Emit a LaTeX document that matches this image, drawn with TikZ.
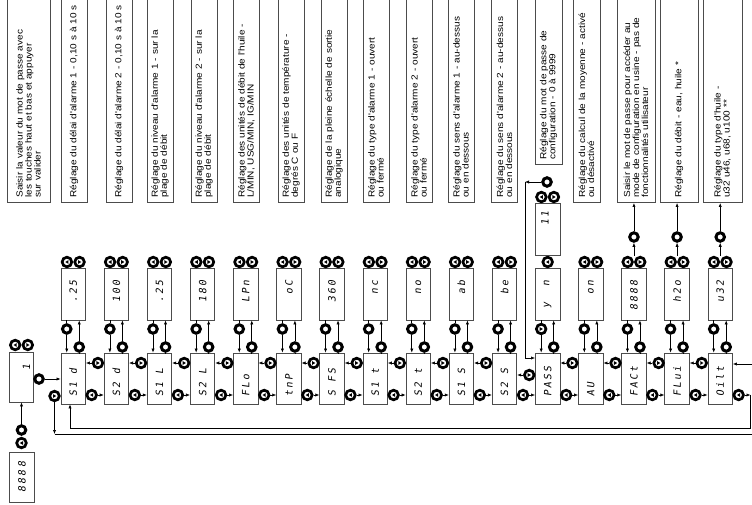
\documentclass[tikz,border=0pt]{standalone}
\usepackage{fontspec}
\setmainfont{Liberation Sans}
\newfontfamily\boxfont[FakeStretch=1.14]{Liberation Sans}
\newfontfamily\segfont[FakeSlant=0.15,LetterSpace=20]{DejaVu Sans Mono}
\usetikzlibrary{arrows.meta,calc}
\tikzset{
 arr/.style={-{Latex[length=4pt,width=3.2pt]}, line width=0.6pt, draw=black},
 con/.style={line width=0.6pt, draw=black},
 mainbox/.style={draw=black!70, line width=0.8pt, minimum width=24.5pt, minimum height=51pt, inner sep=0pt},
 valbox/.style={draw=black!70, line width=0.8pt, minimum width=24.5pt, minimum height=52pt, inner sep=0pt},
 txtbox/.style={draw=black!70, line width=0.8pt, rotate=90, anchor=west, text width=230pt, inner xsep=5pt, inner ysep=0pt, align=left, minimum height=26pt, font=\boxfont\fontsize{8.8}{9}\selectfont},
 segtxt/.style={rotate=90, inner sep=0pt, font=\segfont\fontsize{10}{10}\selectfont},
 plain/.style={circle, draw=black, line width=3pt, fill=white, minimum size=8.5pt, inner sep=0pt},
 btnL/.style={circle, draw=black, line width=2.7pt, fill=white, minimum size=9.6pt, inner sep=0pt,
   path picture={\fill[black] ($(path picture bounding box.center)+(-1.7pt,0pt)$) -- ++(3.2pt,1.9pt) -- ++(0pt,-3.8pt) -- cycle;}},
 btnR/.style={circle, draw=black, line width=2.7pt, fill=white, minimum size=9.6pt, inner sep=0pt,
   path picture={\fill[black] ($(path picture bounding box.center)+(1.7pt,0pt)$) -- ++(-3.2pt,1.9pt) -- ++(0pt,-3.8pt) -- cycle;}},
}
\begin{document}
\begin{tikzpicture}[x=1pt,y=-1pt]
\useasboundingbox (0,0) rectangle (752,505);
\fill[white] (0,0) rectangle (752,505);
\clip (0,0) rectangle (752,505);

% description boxes
\node[txtbox, minimum height=43pt] (tb1) at (28.5,203) {Saisir la valeur du mot de passe avec\\les touches haut et bas et appuyer\\sur valider};
\node[txtbox] (tb2) at (74,203) {Réglage du délai d'alarme 1 - 0,10 s à 10 s};
\node[txtbox] (tb3) at (119,203) {Réglage du délai d'alarme 2 - 0,10 s à 10 s};
\node[txtbox] (tb4) at (160,203) {Réglage du niveau d'alarme 1 - sur la\\plage de débit};
\node[txtbox] (tb5) at (204,203) {Réglage du niveau d'alarme 2 - sur la\\plage de débit};
\node[txtbox] (tb6) at (246.5,203) {Réglage des unités de débit de l'huile -\\L/MIN, USG/MIN, IG/MIN};
\node[txtbox] (tb7) at (291,203) {Réglage des unités de température -\\degrés C ou F};
\node[txtbox] (tb8) at (334,203) {Réglage de la pleine échelle de sortie\\analogique};
\node[txtbox] (tb9) at (376,203) {Réglage du type d'alarme 1 - ouvert\\ou fermé};
\node[txtbox] (tb10) at (419,203) {Réglage du type d'alarme 2 - ouvert\\ou fermé};
\node[txtbox] (tb11) at (461,203) {Réglage du sens d'alarme 1 - au-dessus\\ou en dessous};
\node[txtbox] (tb12) at (504.5,203) {Réglage du sens d'alarme 2 - au-dessus\\ou en dessous};
\node[txtbox, minimum height=27pt] (tb13) at (548.5,165) {Réglage du mot de passe de\\configuration - 0 à 9999};
\node[txtbox, minimum height=27pt] (tb14) at (586.5,203) {Réglage du calcul de la moyenne - activé\\ou désactivé};
\node[txtbox, minimum height=38pt] (tb15) at (636,203) {Saisir le mot de passe pour accéder au\\mode de configuration en usine - pas de\\fonctionnalités utilisateur};
\node[txtbox, minimum height=38pt] (tb16) at (679,203) {Réglage du débit - eau, huile *};
\node[txtbox, minimum height=39pt] (tb17) at (722.5,203) {Réglage du type d'huile -\\u32 u46, u68, u100 **};

% columns
\foreach \i/\mt/\vt in {0/S1 d/.25,1/S2 d/100,2/S1 L/.25,3/S2 L/180,4/FLo/LPn,5/tnP/oC,6/S FS/360,7/S1 t/nc,8/S2 t/no,9/S1 S/ab,10/S2 S/be,11/PASS/y~~n,12/AU/on,13/FACt/8888,14/FLui/h2o,15/Oilt/u32}{
 \pgfmathsetmacro\cx{73.25+43.13*\i}
 \node[mainbox] (m\i) at (\cx,378.5) {};
 \node[segtxt, anchor=west] (mt\i) at (\cx,397) {\mt};
 \node[valbox] (v\i) at (\cx,294) {};
 \node[segtxt, anchor=east] (vt\i) at (\cx,280) {\vt};
 \node[plain] (cr\i) at (\cx+6,347) {};
 \draw[arr] (cr\i) -- (cr\i |- v\i.south);
 \draw[con] (cr\i) -- (cr\i |- m\i.north);
 \ifnum\i=11
   \node[btnR] (cl\i) at (\cx-6.5,329) {};
   \node[btnL] (pc\i) at (\cx,262) {};
 \else
   \node[plain] (cl\i) at (\cx-6.5,329) {};
   \node[btnL] (pl\i) at (\cx-6.3,262) {};
   \node[btnR] (pr\i) at (\cx+6.3,262) {};
 \fi
 \draw[con] (cl\i |- v\i.south) -- (cl\i);
 \draw[arr] (cl\i) -- (cl\i |- m\i.north);
}

% horizontal connectors between main boxes
\foreach \i in {0,...,14}{
 \pgfmathtruncatemacro\j{\i+1}
 \pgfmathsetmacro\cx{73.25+43.13*\i}
 \ifnum\i=10 \def\uy{375}\else\def\uy{363}\fi
 \node[btnR] (hu\i) at (\cx+24.68,\uy) {};
 \draw[arr] (hu\i) -- (hu\i -| m\i.east);
 \node[btnL] (hl\i) at (\cx+18.45,395) {};
 \draw[arr] (hl\i) -- (hl\i -| m\j.west);
}

% first column
\node[valbox, minimum height=50pt] (n1) at (21.5,377) {};
\node[segtxt] (n1t) at (26.5,367) {1};
\node[btnL] (n1l) at (15.2,345) {};
\node[btnR] (n1r) at (27.8,345) {};
\node[plain] (n1c) at (39,379) {};
\draw[arr] (n1c) -- (n1c -| m0.west);
\node[plain] (n8c) at (21.5,430) {};
\node[btnL] (n8b) at (21.5,443) {};
\node[valbox, minimum height=50pt, minimum width=25pt] (n8) at (21.5,477) {};
\node[segtxt] (n8t) at (22,477) {8888};
\draw[arr] (n8c) -- (n8c |- n1.south);

% PASS column extras
\node[valbox] (p11) at (547.68,229) {};
\node[segtxt] (p11t) at (545,218) {11};
\node[btnL] (pp1) at (541.4,197) {};
\node[btnR] (pp2) at (553.9,197) {};
\node[plain] (ppc) at (547,182) {};
\coordinate (pk) at (525,182);
\coordinate (pk2) at (525,358);
\draw[arr] (ppc) -- (pk);
\draw[arr] (pk) -- (pk2) -- (pk2 -| m11.west);

% last three columns: link to description
\foreach \i/\t in {13/15,14/16,15/17}{
 \pgfmathsetmacro\cx{73.25+43.13*\i}
 \node[plain] (tc\i) at (\cx,237) {};
 \coordinate (pj\i) at (\cx,256);
 \draw[arr] (pj\i) -- (tc\i);
 \draw[arr] (tc\i) -- (tc\i |- tb\t.west);
}

% feedback loops
\node[btnL] (hl15) at (738.65,395) {};
\coordinate (ra) at (750.5,395);
\coordinate (rb) at (750.5,428);
\coordinate (lb) at (70,428);
\draw[arr] (hl15) -- (ra);
\draw[arr] (ra) -- (rb) -- (lb) -- (lb |- m0.south);
\node[btnR] (hs) at (54.5,396) {};
\coordinate (lc) at (54.5,434);
\coordinate (re) at (752,434);
\draw[arr] (hs) -- (lc);
\draw[con] (lc) -- (re);
\coordinate (ri) at (752,364);
\draw[arr] (ri) -- (ri -| m15.east);
\end{tikzpicture}
\end{document}
